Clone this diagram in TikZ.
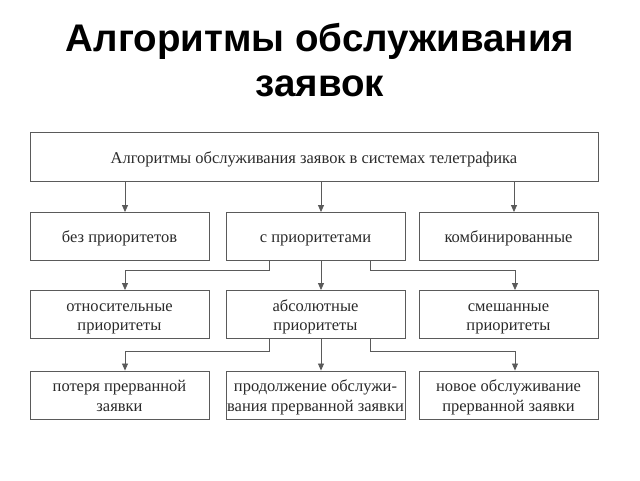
\documentclass[tikz,border=0pt]{standalone}
\usepackage{fontspec}
\setmainfont{Liberation Serif}
\newfontfamily\titlefont{Liberation Sans}
\usetikzlibrary{arrows.meta}

\definecolor{linegray}{HTML}{5A5A5A}
\definecolor{textgray}{HTML}{2A2A2A}

\newcommand{\boxtext}[1]{\raisebox{-2.5pt}[\height][\depth]{\begin{tabular}{@{}c@{}}#1\end{tabular}}}

\tikzset{
  box/.style={draw=linegray, line width=0.9pt, minimum height=48pt, text=textgray,
    font=\fontsize{16.5}{19.5}\selectfont, inner sep=0.5pt},
  small/.style={box, minimum width=179pt},
  arr/.style={draw=linegray, line width=0.8pt, -{Triangle[length=7pt,width=6pt]}},
}

\begin{document}
\begin{tikzpicture}[x=1pt,y=-1pt]
  \useasboundingbox (0,0) rectangle (640,480);
  % Title
  \node[font=\titlefont\bfseries\fontsize{38.5}{45}\selectfont, align=center] (title) at (320,60)
    {Алгоритмы обслуживания\\заявок};
  % Top box
  \node[box, minimum width=568pt, minimum height=49pt] (top) at (314,157)
    {\boxtext{Алгоритмы обслуживания заявок в системах телетрафика}};
  % Second row
  \node[small] (nopri) at (119.5,236.5) {\boxtext{без приоритетов}};
  \node[small] (pri) at (315.5,236.5) {\boxtext{с приоритетами}};
  \node[small] (comb) at (508.5,236.5) {\boxtext{комбинированные}};
  % Third row
  \node[small] (rel) at (119.5,314.5) {\boxtext{относительные\\приоритеты}};
  \node[small] (abs) at (315.5,314.5) {\boxtext{абсолютные\\приоритеты}};
  \node[small] (mix) at (508.5,314.5) {\boxtext{смешанные\\приоритеты}};
  % Fourth row
  \node[small] (loss) at (119.5,395) {\boxtext{потеря прерванной\\заявки}};
  \node[small] (cont) at (315.5,395) {\boxtext{продолжение обслужи-\\вания прерванной заявки}};
  \node[small] (new) at (508.5,395) {\boxtext{новое обслуживание\\прерванной заявки}};
  % Arrows from top box
  \foreach \b in {nopri,pri,comb}
    \draw[arr] ([xshift=5.5pt]top.south -| \b.north) -- ([xshift=5.5pt]\b.north);
  % Branches from c priorities
  \coordinate (pl) at ([xshift=-46.5pt]pri.south);
  \coordinate (pr) at ([xshift=54.5pt]pri.south);
  \draw[arr] (pl) -- ++(0,9.5) -| ([xshift=5.5pt]rel.north);
  \draw[arr] ([xshift=5.5pt]pri.south) -- ([xshift=5.5pt]abs.north);
  \draw[arr] (pr) -- ++(0,9.5) -| ([xshift=6.5pt]mix.north);
  % Branches from absolute priorities
  \coordinate (al) at ([xshift=-46.5pt]abs.south);
  \coordinate (ar) at ([xshift=54.5pt]abs.south);
  \draw[arr] (al) -- ++(0,12.5) -| ([xshift=5.5pt]loss.north);
  \draw[arr] ([xshift=5.5pt]abs.south) -- ([xshift=5.5pt]cont.north);
  \draw[arr] (ar) -- ++(0,12.5) -| ([xshift=6.5pt]new.north);
\end{tikzpicture}
\end{document}
